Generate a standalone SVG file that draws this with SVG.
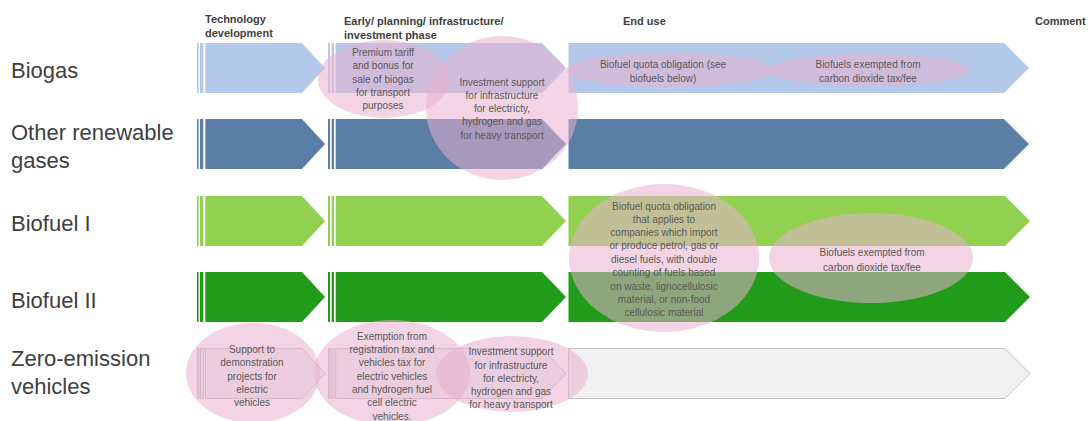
<svg xmlns="http://www.w3.org/2000/svg" width="1088" height="421" viewBox="0 0 1088 421">
<style>
.hdr{font-family:"Liberation Sans",Arial,sans-serif;font-size:11px;font-weight:bold;fill:#404040}
.row{font-family:"Liberation Sans",Arial,sans-serif;font-size:22px;fill:#404040}
.t{font-family:"Liberation Sans",Arial,sans-serif;font-size:10px;fill:#595959;text-anchor:middle}
.pk{fill:#e7b1ce;fill-opacity:0.55}
.c1{fill:#b4c8ea}
.c2{fill:#5b7ea6}
.c3{fill:#92d050}
.c4{fill:#229a1a}
.c5{fill:#f0f0f0;stroke:#c0c0c0;stroke-width:1}
</style>
<rect width="1088" height="421" fill="#ffffff"/>
<g id="headers">
<text class="hdr" x="205" y="23">Technology</text>
<text class="hdr" x="205" y="37">development</text>
<text class="hdr" x="344" y="25">Early/ planning/ infrastructure/</text>
<text class="hdr" x="344" y="39">investment phase</text>
<text class="hdr" x="623" y="25">End use</text>
<text class="hdr" x="1035" y="25">Comment</text>
</g>
<g id="row-labels">
<text class="row" x="11" y="78">Biogas</text>
<text class="row" x="11" y="140">Other renewable</text>
<text class="row" x="11" y="168">gases</text>
<text class="row" x="11" y="231">Biofuel I</text>
<text class="row" x="11" y="308">Biofuel II</text>
<text class="row" x="11" y="366">Zero-emission</text>
<text class="row" x="11" y="394">vehicles</text>
</g>
<g id="connectors">
<g id="row-biogas" class="c1">
<rect x="197" y="43" width="1.6" height="50"/><rect x="200" y="43" width="3.3" height="50"/>
<polygon points="205.3,43 302,43 325,68 302,93 205.3,93"/>
<rect x="328" y="43" width="2" height="50"/><rect x="331.7" y="43" width="2.3" height="50"/>
<polygon points="335.7,43 542,43 566,68 542,93 335.7,93"/>
<polygon points="568.5,43 1004,43 1029,68 1004,93 568.5,93"/>
</g>
<g id="row-other" class="c2">
<rect x="197" y="119" width="1.6" height="50"/><rect x="200" y="119" width="3.3" height="50"/>
<polygon points="205.3,119 302,119 325,144 302,169 205.3,169"/>
<rect x="328" y="119" width="2" height="50"/><rect x="331.7" y="119" width="2.3" height="50"/>
<polygon points="335.7,119 542,119 566,144 542,169 335.7,169"/>
<polygon points="568.5,119 1004,119 1029,144 1004,169 568.5,169"/>
</g>
<g id="row-biofuel1" class="c3">
<rect x="197" y="196" width="1.6" height="50"/><rect x="200" y="196" width="3.3" height="50"/>
<polygon points="205.3,196 302,196 325,221 302,246 205.3,246"/>
<rect x="328" y="196" width="2" height="50"/><rect x="331.7" y="196" width="2.3" height="50"/>
<polygon points="335.7,196 542,196 566,221 542,246 335.7,246"/>
<polygon points="568.5,196 1005,196 1030,221 1005,246 568.5,246"/>
</g>
<g id="row-biofuel2" class="c4">
<rect x="197" y="272" width="1.6" height="50"/><rect x="200" y="272" width="3.3" height="50"/>
<polygon points="205.3,272 302,272 325,297 302,322 205.3,322"/>
<rect x="328" y="272" width="2" height="50"/><rect x="331.7" y="272" width="2.3" height="50"/>
<polygon points="335.7,272 542,272 566,297 542,322 335.7,322"/>
<polygon points="568.5,272 1005,272 1030,297 1005,322 568.5,322"/>
</g>
<g id="row-zev" class="c5">
<rect x="197.5" y="348.5" width="1.5" height="50"/><rect x="200.5" y="348.5" width="2.8" height="50"/>
<polygon points="205.3,348.5 302,348.5 325,373.5 302,398.5 205.3,398.5"/>
<rect x="328.5" y="348.5" width="1.5" height="50"/><rect x="331.7" y="348.5" width="2.3" height="50"/>
<polygon points="335.7,348.5 542,348.5 566,373.5 542,398.5 335.7,398.5"/>
<polygon points="568.5,348.5 1005,348.5 1030,373.5 1005,398.5 568.5,398.5"/>
</g>
</g>
<g id="n-premium">
<ellipse class="pk" cx="384" cy="79" rx="66" ry="39"/>
</g>
<g id="n-invest-gas">
<ellipse class="pk" cx="502" cy="108" rx="76" ry="72"/>
</g>
<g id="n-quota-biogas">
<ellipse class="pk" cx="670" cy="70" rx="104" ry="17"/>
</g>
<g id="n-exempt-biogas">
<ellipse class="pk" cx="869" cy="70" rx="101" ry="16"/>
</g>
<g id="n-quota-biofuel">
<ellipse class="pk" cx="664" cy="258" rx="95" ry="74"/>
</g>
<g id="n-exempt-biofuel">
<ellipse class="pk" cx="871" cy="258" rx="102" ry="45"/>
</g>
<g id="n-demo">
<ellipse class="pk" cx="253" cy="373" rx="67" ry="50"/>
</g>
<g id="n-exemption-reg">
<ellipse class="pk" cx="392" cy="373" rx="78" ry="53"/>
</g>
<g id="n-invest-zev">
<ellipse class="pk" cx="512" cy="374" rx="76" ry="38"/>
</g>
<g id="texts">
<text class="t" x="383" y="56">Premium tariff</text>
<text class="t" x="383" y="69">and bonus for</text>
<text class="t" x="383" y="82.5">sale of biogas</text>
<text class="t" x="383" y="96">for transport</text>
<text class="t" x="383" y="109">purposes</text>

<text class="t" x="502" y="85.5">Investment support</text>
<text class="t" x="502" y="98.5">for infrastructure</text>
<text class="t" x="502" y="112">for electricty,</text>
<text class="t" x="502" y="125">hydrogen and gas</text>
<text class="t" x="502" y="138.5">for heavy transport</text>

<text class="t" x="663" y="68">Biofuel quota obligation (see</text>
<text class="t" x="663" y="82">biofuels below)</text>

<text class="t" x="868" y="68">Biofuels exempted from</text>
<text class="t" x="868" y="82">carbon dioxide tax/fee</text>

<text class="t" x="664" y="209.5">Biofuel quota obligation</text>
<text class="t" x="664" y="223">that applies to</text>
<text class="t" x="664" y="236">companies which import</text>
<text class="t" x="664" y="249">or produce petrol, gas or</text>
<text class="t" x="664" y="263">diesel fuels, with double</text>
<text class="t" x="664" y="276">counting of fuels based</text>
<text class="t" x="664" y="289.5">on waste, lignocellulosic</text>
<text class="t" x="664" y="302.5">material, or non-food</text>
<text class="t" x="664" y="316">cellulosic material</text>

<text class="t" x="872" y="256">Biofuels exempted from</text>
<text class="t" x="872" y="271">carbon dioxide tax/fee</text>

<text class="t" x="252" y="353">Support to</text>
<text class="t" x="252" y="366">demonstration</text>
<text class="t" x="252" y="379.5">projects for</text>
<text class="t" x="252" y="393">electric</text>
<text class="t" x="252" y="406">vehicles</text>

<text class="t" x="392" y="339.5">Exemption from</text>
<text class="t" x="392" y="353">registration tax and</text>
<text class="t" x="392" y="366">vehicles tax for</text>
<text class="t" x="392" y="379.5">electric vehicles</text>
<text class="t" x="392" y="393">and hydrogen fuel</text>
<text class="t" x="392" y="406">cell electric</text>
<text class="t" x="392" y="419.5">vehicles.</text>

<text class="t" x="511" y="355">Investment support</text>
<text class="t" x="511" y="368.5">for infrastructure</text>
<text class="t" x="511" y="382">for electricty,</text>
<text class="t" x="511" y="395">hydrogen and gas</text>
<text class="t" x="511" y="407.5">for heavy transport</text>
</g>
</svg>
